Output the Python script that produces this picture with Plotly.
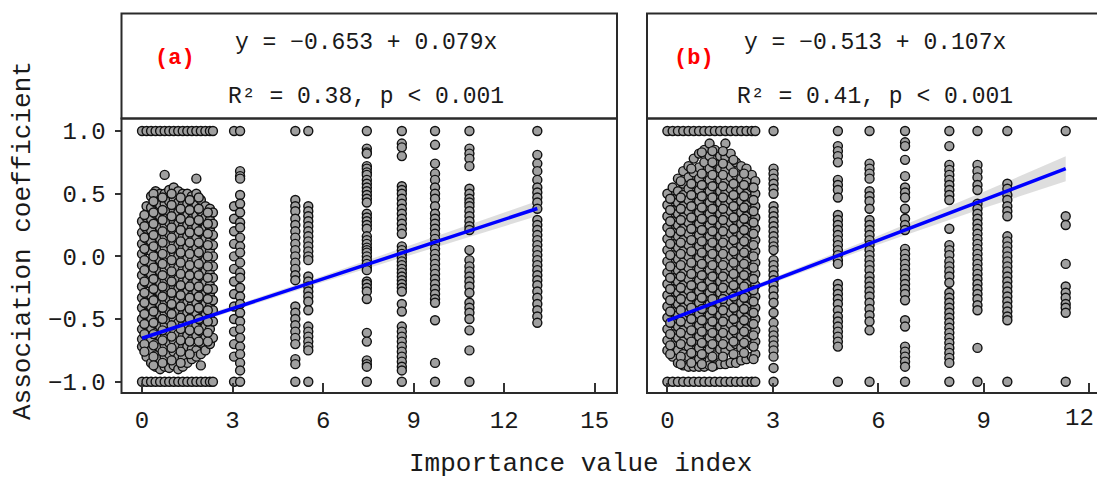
import plotly.graph_objects as go

# ---------------- Panel (a) data ----------------
a_col_x = [0.0, 0.15, 0.3, 0.45, 0.6, 0.75, 0.9, 1.05, 1.2, 1.35, 1.5, 1.65, 1.8, 1.95, 2.1, 2.25, 2.35,
           3.05, 3.25, 5.08, 5.51, 7.45, 8.61, 9.71, 10.85, 13.1]
a_col_y = [
    [1.0, 0.28, 0.19, 0.1, 0.02, -0.07, -0.15, -0.24, -0.33, -0.41, -0.5, -0.58, -0.66, -0.72, -1.0],
    [1.0, 0.40, 0.31, 0.22, 0.14, 0.05, -0.04, -0.12, -0.21, -0.3, -0.38, -0.47, -0.55, -0.64, -0.72, -0.8, -1.0],
    [1.0, 0.48, 0.39, 0.3, 0.21, 0.12, 0.04, -0.05, -0.14, -0.22, -0.31, -0.4, -0.49, -0.57, -0.66, -0.75, -0.85, -1.0],
    [1.0, 0.52, 0.43, 0.34, 0.26, 0.17, 0.08, 0.0, -0.09, -0.18, -0.27, -0.35, -0.44, -0.53, -0.61, -0.7, -0.79, -0.88, -1.0],
    [1.0, 0.5, 0.41, 0.32, 0.23, 0.14, 0.06, -0.03, -0.12, -0.21, -0.29, -0.38, -0.47, -0.56, -0.64, -0.73, -0.82, -0.9, -1.0],
    [1.0, 0.65, 0.5, 0.42, 0.33, 0.25, 0.16, 0.07, -0.01, -0.1, -0.19, -0.27, -0.36, -0.45, -0.54, -0.62, -0.71, -0.8, -0.88, -1.0],
    [1.0, 0.53, 0.44, 0.36, 0.27, 0.18, 0.1, 0.01, -0.08, -0.17, -0.25, -0.34, -0.43, -0.51, -0.6, -0.69, -0.78, -0.89, -1.0],
    [1.0, 0.55, 0.46, 0.37, 0.28, 0.2, 0.11, 0.03, -0.06, -0.15, -0.24, -0.32, -0.41, -0.5, -0.58, -0.67, -0.76, -0.87, -1.0],
    [1.0, 0.52, 0.43, 0.35, 0.26, 0.17, 0.09, 0.0, -0.09, -0.18, -0.26, -0.35, -0.44, -0.53, -0.62, -0.71, -0.8, -0.9, -1.0],
    [1.0, 0.5, 0.41, 0.32, 0.24, 0.15, 0.06, -0.02, -0.11, -0.2, -0.29, -0.38, -0.46, -0.55, -0.64, -0.73, -0.81, -0.88, -1.0],
    [1.0, 0.5, 0.42, 0.33, 0.25, 0.16, 0.07, -0.02, -0.1, -0.19, -0.28, -0.37, -0.45, -0.54, -0.63, -0.72, -0.85, -1.0],
    [1.0, 0.48, 0.39, 0.3, 0.22, 0.13, 0.04, -0.04, -0.13, -0.22, -0.31, -0.39, -0.48, -0.57, -0.66, -0.74, -0.82, -1.0],
    [1.0, 0.62, 0.5, 0.41, 0.33, 0.24, 0.15, 0.07, -0.02, -0.11, -0.2, -0.28, -0.37, -0.46, -0.55, -0.63, -0.75, -0.8, -1.0],
    [1.0, 0.45, 0.36, 0.28, 0.19, 0.1, 0.02, -0.07, -0.16, -0.25, -0.33, -0.42, -0.51, -0.6, -0.69, -0.78, -0.87, -1.0],
    [1.0, 0.4, 0.31, 0.23, 0.14, 0.05, -0.03, -0.12, -0.21, -0.3, -0.38, -0.47, -0.56, -0.65, -0.75, -1.0],
    [1.0, 0.38, 0.29, 0.21, 0.12, 0.04, -0.05, -0.14, -0.23, -0.31, -0.4, -0.49, -0.58, -0.7, -1.0],
    [1.0, 0.35, 0.26, 0.17, 0.09, 0.0, -0.08, -0.17, -0.26, -0.35, -0.43, -0.52, -0.65, -1.0],
    [1.0, 0.40, 0.30, 0.20, 0.10, 0.0, -0.10, -0.20, -0.30, -0.40, -0.50, -0.60, -0.70, -0.80, -1.0],
    [1.0, 0.68, 0.64, 0.62, 0.49, 0.42, 0.35, 0.27, 0.23, 0.15, 0.08, 0.03, -0.05, -0.13, -0.17, -0.25, -0.32,
     -0.38, -0.45, -0.52, -0.58, -0.65, -0.72, -0.78, -0.85, -0.91, -1.0],
    [1.0, 0.45, 0.40, 0.36, 0.30, 0.25, 0.20, 0.15, 0.10, 0.05, 0.0, -0.05, -0.10, -0.15, -0.19, -0.40, -0.45,
     -0.50, -0.55, -0.60, -0.65, -0.70, -0.82, -0.86, -1.0],
    [1.0, 0.40, 0.36, 0.32, 0.28, 0.24, 0.20, 0.16, 0.12, 0.08, 0.04, 0.0, -0.03, -0.16, -0.20, -0.24, -0.28,
     -0.32, -0.36, -0.43, -0.56, -0.60, -0.64, -0.68, -0.72, -0.75, -1.0],
    [1.0, 0.86, 0.83, 0.82, 0.72, 0.70, 0.67, 0.65, 0.61, 0.58, 0.55, 0.52, 0.49, 0.46, 0.43, 0.34, 0.31, 0.28,
     0.25, 0.22, 0.16, 0.13, 0.10, 0.07, 0.05, 0.03, 0.0, -0.03, -0.06, -0.09, -0.11, -0.2, -0.22, -0.25, -0.28,
     -0.34, -0.61, -0.68, -0.83, -0.86, -0.88, -1.0],
    [1.0, 0.90, 0.87, 0.80, 0.56, 0.53, 0.50, 0.46, 0.42, 0.38, 0.34, 0.30, 0.26, 0.22, 0.18, 0.08, 0.05, 0.02,
     -0.01, -0.04, -0.07, -0.10, -0.13, -0.16, -0.19, -0.22, -0.25, -0.28, -0.38, -0.44, -0.56, -0.60, -0.64,
     -0.68, -0.72, -0.76, -0.80, -0.84, -0.88, -0.91, -1.0],
    [1.0, 0.89, 0.74, 0.66, 0.61, 0.55, 0.50, 0.46, 0.40, 0.34, 0.30, 0.26, 0.22, 0.18, 0.14, 0.10, 0.06, 0.02,
     -0.02, -0.06, -0.10, -0.14, -0.18, -0.22, -0.26, -0.30, -0.34, -0.37, -0.51, -0.85, -1.0],
    [1.0, 0.86, 0.82, 0.78, 0.72, 0.54, 0.50, 0.46, 0.43, 0.40, 0.36, 0.32, 0.28, 0.24, 0.21, 0.05, -0.03, -0.08,
     -0.12, -0.16, -0.20, -0.24, -0.29, -0.37, -0.41, -0.45, -0.50, -0.59, -0.75, -1.0],
    [1.0, 0.81, 0.74, 0.68, 0.61, 0.55, 0.51, 0.47, 0.43, 0.38, 0.29, 0.25, 0.21, 0.17, 0.13, 0.09, 0.05, 0.01,
     -0.03, -0.07, -0.11, -0.15, -0.19, -0.23, -0.28, -0.33, -0.38, -0.43, -0.48, -0.53],
]
# extra interleaved columns of the dense cluster (a)
a_extra_x = [0.08, 0.38, 0.68, 0.98, 1.28, 1.58, 1.88, 2.18]
a_extra_y = [
    [0.33, 0.24, 0.15, 0.06, -0.03, -0.11, -0.2, -0.29, -0.37, -0.46, -0.54, -0.62, -0.7, -0.76],
    [0.5, 0.44, 0.35, 0.26, 0.17, 0.08, 0.0, -0.09, -0.18, -0.26, -0.35, -0.44, -0.53, -0.62, -0.71, -0.8, -0.87],
    [0.47, 0.37, 0.29, 0.2, 0.11, 0.02, -0.06, -0.15, -0.24, -0.32, -0.41, -0.5, -0.59, -0.67, -0.76, -0.85],
    [0.5, 0.41, 0.32, 0.23, 0.15, 0.06, -0.03, -0.12, -0.2, -0.29, -0.38, -0.46, -0.55, -0.64, -0.73, -0.83],
    [0.47, 0.38, 0.3, 0.21, 0.12, 0.03, -0.05, -0.14, -0.23, -0.31, -0.4, -0.49, -0.58, -0.67, -0.76, -0.85],
    [0.45, 0.37, 0.28, 0.19, 0.11, 0.02, -0.07, -0.15, -0.24, -0.33, -0.42, -0.5, -0.59, -0.68, -0.78],
    [0.47, 0.38, 0.29, 0.2, 0.11, 0.03, -0.06, -0.15, -0.24, -0.32, -0.41, -0.5, -0.59, -0.68],
    [0.35, 0.26, 0.18, 0.09, 0.0, -0.08, -0.17, -0.26, -0.34, -0.43, -0.52, -0.61, -0.68],
]
a_intercept, a_slope = -0.653, 0.079
a_line_x = [0.0, 13.1]
a_band_x = [0.0, 3.0, 6.0, 9.0, 13.1]
a_band_half = [0.035, 0.02, 0.025, 0.04, 0.06]

# ---------------- Panel (b) data ----------------
b_col_x = [0.0, 0.15, 0.3, 0.45, 0.6, 0.75, 0.9, 1.05, 1.2, 1.35, 1.5, 1.65, 1.8, 1.95, 2.1, 2.25, 2.4, 2.5,
           3.02, 4.85, 5.75, 6.76, 8.02, 8.82, 9.67, 11.33]
b_col_y = [
    [1.0, 0.5, 0.41, 0.32, 0.23, 0.14, 0.05, -0.04, -0.13, -0.22, -0.31, -0.4, -0.49, -0.58, -0.67, -0.75, -1.0],
    [1.0, 0.55, 0.46, 0.37, 0.28, 0.19, 0.1, 0.01, -0.08, -0.17, -0.26, -0.35, -0.44, -0.53, -0.62, -0.71, -0.8, -1.0],
    [1.0, 0.62, 0.52, 0.43, 0.34, 0.25, 0.16, 0.07, -0.02, -0.11, -0.2, -0.29, -0.38, -0.47, -0.56, -0.65, -0.75, -0.85, -1.0],
    [1.0, 0.68, 0.58, 0.49, 0.4, 0.31, 0.22, 0.13, 0.04, -0.05, -0.14, -0.23, -0.32, -0.41, -0.5, -0.59, -0.68, -0.78, -0.87, -1.0],
    [1.0, 0.72, 0.63, 0.54, 0.45, 0.36, 0.27, 0.18, 0.09, 0.0, -0.09, -0.18, -0.27, -0.36, -0.45, -0.54, -0.63, -0.72, -0.8, -0.88, -1.0],
    [1.0, 0.78, 0.67, 0.58, 0.49, 0.4, 0.31, 0.22, 0.13, 0.04, -0.05, -0.14, -0.23, -0.32, -0.41, -0.5, -0.59, -0.68, -0.77, -0.88, -1.0],
    [1.0, 0.82, 0.71, 0.62, 0.53, 0.44, 0.35, 0.26, 0.17, 0.08, -0.01, -0.1, -0.19, -0.28, -0.37, -0.46, -0.55, -0.64, -0.73, -0.82, -0.88, -1.0],
    [1.0, 0.85, 0.75, 0.66, 0.57, 0.48, 0.39, 0.3, 0.21, 0.12, 0.03, -0.06, -0.15, -0.24, -0.33, -0.42, -0.51, -0.6, -0.69, -0.78, -0.88, -1.0],
    [1.0, 0.9, 0.8, 0.7, 0.61, 0.52, 0.43, 0.34, 0.25, 0.16, 0.07, -0.02, -0.11, -0.2, -0.29, -0.38, -0.47, -0.56, -0.65, -0.74, -0.83, -0.87, -1.0],
    [1.0, 0.85, 0.74, 0.65, 0.56, 0.47, 0.38, 0.29, 0.2, 0.11, 0.02, -0.07, -0.16, -0.25, -0.34, -0.43, -0.52, -0.61, -0.7, -0.79, -0.87, -1.0],
    [1.0, 0.8, 0.7, 0.61, 0.52, 0.43, 0.34, 0.25, 0.16, 0.07, -0.02, -0.11, -0.2, -0.29, -0.38, -0.47, -0.56, -0.65, -0.74, -0.86, -1.0],
    [1.0, 0.9, 0.79, 0.69, 0.6, 0.51, 0.42, 0.33, 0.24, 0.15, 0.06, -0.03, -0.12, -0.21, -0.3, -0.39, -0.48, -0.57, -0.66, -0.75, -0.86, -1.0],
    [1.0, 0.82, 0.72, 0.63, 0.54, 0.45, 0.36, 0.27, 0.18, 0.09, 0.0, -0.09, -0.18, -0.27, -0.36, -0.45, -0.54, -0.63, -0.72, -0.85, -1.0],
    [1.0, 0.75, 0.65, 0.56, 0.47, 0.38, 0.29, 0.2, 0.11, 0.02, -0.07, -0.16, -0.25, -0.34, -0.43, -0.52, -0.61, -0.7, -0.85, -1.0],
    [1.0, 0.72, 0.62, 0.53, 0.44, 0.35, 0.26, 0.17, 0.08, -0.01, -0.1, -0.19, -0.28, -0.37, -0.46, -0.55, -0.64, -0.73, -0.83, -1.0],
    [1.0, 0.7, 0.6, 0.5, 0.41, 0.32, 0.23, 0.14, 0.05, -0.04, -0.13, -0.22, -0.31, -0.4, -0.49, -0.58, -0.67, -0.82, -1.0],
    [1.0, 0.65, 0.55, 0.46, 0.37, 0.28, 0.19, 0.1, 0.01, -0.08, -0.17, -0.26, -0.35, -0.44, -0.53, -0.62, -0.71, -0.8, -1.0],
    [1.0, 0.6, 0.5, 0.4, 0.31, 0.22, 0.13, 0.04, -0.05, -0.14, -0.23, -0.32, -0.41, -0.5, -0.59, -0.68, -0.78, -1.0],
    [1.0, 0.70, 0.66, 0.62, 0.58, 0.54, 0.50, 0.40, 0.36, 0.32, 0.28, 0.24, 0.20, 0.16, 0.12, 0.08, 0.05, -0.03,
     -0.07, -0.11, -0.15, -0.19, -0.23, -0.27, -0.32, -0.37, -0.45, -0.53, -0.59, -0.63, -0.67, -0.71, -0.75,
     -0.80, -0.89, -1.0],
    [1.0, 0.88, 0.84, 0.80, 0.75, 0.61, 0.57, 0.53, 0.47, 0.33, 0.29, 0.25, 0.21, 0.17, 0.13, 0.09, 0.05, 0.01,
     -0.03, -0.06, -0.22, -0.26, -0.30, -0.34, -0.38, -0.43, -0.48, -0.52, -0.56, -0.60, -0.64, -0.68, -0.72, -1.0],
    [1.0, 0.74, 0.70, 0.66, 0.62, 0.52, 0.48, 0.44, 0.38, 0.29, 0.25, 0.21, 0.17, 0.13, 0.09, 0.05, 0.01, -0.03,
     -0.07, -0.11, -0.16, -0.20, -0.24, -0.28, -0.32, -0.37, -0.42, -0.47, -0.52, -0.59, -1.0],
    [1.0, 0.91, 0.88, 0.77, 0.64, 0.55, 0.51, 0.47, 0.38, 0.30, 0.25, 0.21, 0.06, 0.02, -0.02, -0.06, -0.10,
     -0.14, -0.18, -0.22, -0.26, -0.30, -0.35, -0.51, -0.56, -0.72, -0.76, -0.80, -0.84, -0.88, -1.0],
    [1.0, 0.88, 0.73, 0.69, 0.65, 0.61, 0.57, 0.53, 0.49, 0.45, 0.22, 0.09, 0.05, 0.01, -0.04, -0.08, -0.12,
     -0.16, -0.21, -0.29, -0.33, -0.37, -0.41, -0.45, -0.49, -0.53, -0.57, -0.61, -0.65, -0.69, -0.73, -0.77,
     -0.81, -0.85, -1.0],
    [1.0, 0.73, 0.68, 0.63, 0.57, 0.53, 0.42, 0.38, 0.34, 0.30, 0.26, 0.22, 0.18, 0.14, 0.10, 0.06, 0.02, -0.02,
     -0.06, -0.10, -0.14, -0.18, -0.22, -0.26, -0.30, -0.34, -0.39, -0.43, -0.73, -1.0],
    [1.0, 0.58, 0.54, 0.49, 0.45, 0.40, 0.36, 0.32, 0.16, 0.12, 0.08, 0.04, 0.0, -0.04, -0.08, -0.12, -0.16,
     -0.20, -0.24, -0.28, -0.32, -0.36, -0.40, -0.44, -0.48, -0.51, -1.0],
    [1.0, 0.32, 0.25, -0.06, -0.24, -0.29, -0.33, -0.38, -0.41, -0.45, -1.0],
]
# extra interleaved columns of the dense cluster (b)
b_extra_x = [0.08, 0.38, 0.68, 0.98, 1.28, 1.58, 1.88, 2.18, 2.45]
b_extra_y = [
    [0.46, 0.37, 0.28, 0.19, 0.1, 0.01, -0.08, -0.17, -0.26, -0.35, -0.44, -0.53, -0.62, -0.71, -0.78],
    [0.6, 0.47, 0.38, 0.29, 0.2, 0.11, 0.02, -0.07, -0.16, -0.25, -0.34, -0.43, -0.52, -0.61, -0.7, -0.8, -0.86],
    [0.7, 0.58, 0.49, 0.4, 0.31, 0.22, 0.13, 0.04, -0.05, -0.14, -0.23, -0.32, -0.41, -0.5, -0.59, -0.68, -0.77, -0.85],
    [0.83, 0.66, 0.57, 0.48, 0.39, 0.3, 0.21, 0.12, 0.03, -0.06, -0.15, -0.24, -0.33, -0.42, -0.51, -0.6, -0.69, -0.78, -0.86],
    [0.84, 0.75, 0.65, 0.56, 0.47, 0.38, 0.29, 0.2, 0.11, 0.02, -0.07, -0.16, -0.25, -0.34, -0.43, -0.52, -0.61, -0.7, -0.8, -0.88],
    [0.84, 0.74, 0.65, 0.56, 0.47, 0.38, 0.29, 0.2, 0.11, 0.02, -0.07, -0.16, -0.25, -0.34, -0.43, -0.52, -0.61, -0.7, -0.8],
    [0.77, 0.67, 0.58, 0.49, 0.4, 0.31, 0.22, 0.13, 0.04, -0.05, -0.14, -0.23, -0.32, -0.41, -0.5, -0.59, -0.68, -0.78],
    [0.66, 0.57, 0.48, 0.39, 0.3, 0.21, 0.12, 0.03, -0.06, -0.15, -0.24, -0.33, -0.42, -0.51, -0.6, -0.69, -0.77],
    [0.55, 0.45, 0.36, 0.27, 0.18, 0.09, 0.0, -0.09, -0.18, -0.27, -0.36, -0.45, -0.54, -0.63, -0.72, -0.82],
]
b_intercept, b_slope = -0.513, 0.107
b_line_x = [0.0, 11.33]
b_band_x = [0.0, 3.0, 6.0, 9.0, 11.33]
b_band_half = [0.025, 0.02, 0.035, 0.065, 0.1]

# ---------------- Text ----------------
a_eq = "y = −0.653 + 0.079x"
a_r2 = "R² = 0.38, p < 0.001"
b_eq = "y = −0.513 + 0.107x"
b_r2 = "R² = 0.41, p < 0.001"
x_title = "Importance value index"
y_title = "Association coefficient"
x_ticks_a = [0, 3, 6, 9, 12, 15]
x_ticks_b = [0, 3, 6, 9, 12]
x_ticktext_b = ["0", "3", "6", "9", ""]   # the "12" at the right edge is written as an annotation
y_ticks = [-1.0, -0.5, 0.0, 0.5, 1.0]

MONO = "Liberation Mono, DejaVu Sans Mono, monospace"
W, H = 1097, 478


def flatten(cx, cy):
    xs, ys = [], []
    for x, col in zip(cx, cy):
        for v in col:
            xs.append(x)
            ys.append(v)
    return xs, ys


fig = go.Figure()


def add_panel(cx, cy, ex, ey, b0, b1, line_x, band_x, band_half, xa, ya):
    xs, ys = flatten(cx, cy)
    xe, ye = flatten(ex, ey)
    up = [b0 + b1 * x + h for x, h in zip(band_x, band_half)]
    lo = [b0 + b1 * x - h for x, h in zip(band_x, band_half)]
    fig.add_trace(go.Scatter(x=band_x + band_x[::-1], y=up + lo[::-1], fill="toself",
                             fillcolor="rgba(200,200,200,0.6)", line=dict(width=0),
                             mode="lines", hoverinfo="skip", showlegend=False, xaxis=xa, yaxis=ya))
    fig.add_trace(go.Scatter(x=xs + xe, y=ys + ye, mode="markers", showlegend=False, xaxis=xa, yaxis=ya,
                             marker=dict(symbol="circle", size=9, color="#a0a0a0",
                                         line=dict(color="#111111", width=1.4))))
    fig.add_trace(go.Scatter(x=line_x, y=[b0 + b1 * x for x in line_x], mode="lines",
                             line=dict(color="#0000ff", width=3.5), showlegend=False, xaxis=xa, yaxis=ya))


add_panel(a_col_x, a_col_y, a_extra_x, a_extra_y, a_intercept, a_slope, a_line_x, a_band_x, a_band_half, "x", "y")
add_panel(b_col_x, b_col_y, b_extra_x, b_extra_y, b_intercept, b_slope, b_line_x, b_band_x, b_band_half, "x2", "y2")

ax_l, ax_r = 121.5 / W, 617 / W
bx_l, bx_r = 647 / W, 1.0
y_bot = 1 - 393 / H
y_sep = 1 - 118.5 / H
y_top = 1 - 13.5 / H

tickfont = dict(family=MONO, size=24, color="#1a1a1a")
common_x = dict(showgrid=False, zeroline=False, showline=False, ticks="inside", ticklen=10,
                tickwidth=1.5, tickcolor="#333", tickfont=tickfont, ticklabelstandoff=10, automargin=False)
fig.update_layout(
    width=W, height=H, margin=dict(l=0, r=0, t=0, b=0, autoexpand=False),
    paper_bgcolor="white", plot_bgcolor="white",
    xaxis=dict(domain=[ax_l, ax_r], range=[-0.68, 15.74], tickvals=x_ticks_a, anchor="y", **common_x),
    xaxis2=dict(domain=[bx_l, bx_r], range=[-0.58, 12.22], tickvals=x_ticks_b, ticktext=x_ticktext_b,
                anchor="y2", **common_x),
    yaxis=dict(domain=[y_bot, y_sep], range=[-1.09, 1.10], tickvals=y_ticks, ticktext=["−1.0", "−0.5", "0.0", "0.5", "1.0"],
               showgrid=False, zeroline=False, ticks="outside", ticklen=6, tickwidth=1.5, tickcolor="#333",
               tickfont=tickfont, ticklabelstandoff=4, anchor="x", automargin=False),
    yaxis2=dict(domain=[y_bot, y_sep], range=[-1.09, 1.10], showticklabels=False, showgrid=False,
                zeroline=False, ticks="", anchor="x2", automargin=False),
    font=dict(family=MONO, color="#1a1a1a"),
)

border = dict(color="#2a2a2a", width=2)
shapes = []
for (l, r) in [(ax_l, ax_r), (bx_l, bx_r + 0.01)]:
    shapes.append(dict(type="rect", xref="paper", yref="paper", x0=l, x1=r, y0=y_bot, y1=y_sep, line=border))
    shapes.append(dict(type="rect", xref="paper", yref="paper", x0=l, x1=r, y0=y_sep, y1=y_top, line=border))
fig.update_layout(shapes=shapes)


def px(xp, yp):
    return xp / W, 1 - yp / H


ann = []
for text, xp, yp, size, color, bold in [
    ("(a)", 175, 58, 22, "#ff0000", True),
    (a_eq, 366, 43, 23, "#1a1a1a", False),
    (a_r2, 366, 97, 23, "#1a1a1a", False),
    ("(b)", 694, 58, 22, "#ff0000", True),
    (b_eq, 875, 43, 23, "#1a1a1a", False),
    (b_r2, 875, 97, 23, "#1a1a1a", False),
    (x_title, 580, 464, 26, "#1a1a1a", False),
]:
    x, y = px(xp, yp)
    ann.append(dict(x=x, y=y, xref="paper", yref="paper", showarrow=False, text=f"<b>{text}</b>" if bold else text,
                    font=dict(family=MONO, size=size, color=color), xanchor="center", yanchor="middle"))
x, y = px(23, 241)
ann.append(dict(x=x, y=y, xref="paper", yref="paper", showarrow=False, text=y_title, textangle=-90,
                font=dict(family=MONO, size=26, color="#1a1a1a"), xanchor="center", yanchor="middle"))
# last tick label of panel (b), kept just inside the right edge of the page
ann.append(dict(x=1 - 1 / W, y=1 - 418 / H, xref="paper", yref="paper", showarrow=False, text=str(x_ticks_b[-1]),
                font=tickfont, xanchor="right", yanchor="middle"))
fig.update_layout(annotations=ann)

post = (
    "document.documentElement.style.overflow='hidden';"
    "document.body.style.margin='0';document.body.style.overflow='hidden';"
)
fig.write_html("out.html", config={"displayModeBar": False}, post_script=post)
